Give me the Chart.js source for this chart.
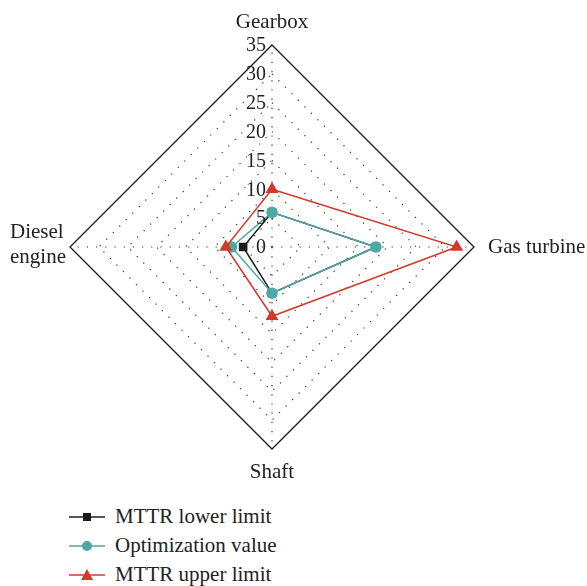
<!DOCTYPE html>
<html>
<head>
<meta charset="utf-8">
<script src="https://cdn.jsdelivr.net/npm/chart.js@4/dist/chart.umd.min.js"></script>
<style>
    html, body { margin: 0; padding: 0; background: #fff; }
    #wrap { position: relative; width: 587px; height: 586px; }
    #box { position: absolute; left: 0; top: 0; width: 587px; height: 492px; }
    #legend { position: absolute; left: 69px; top: 502px; font-family: "Liberation Serif", serif; font-size: 21px; color: #222; }
    #legend .row { display: flex; align-items: center; height: 29px; }
    #legend svg { margin-right: 10px; }
</style>
</head>
<body>
<div id="wrap">
    <div id="box"><canvas id="radarChart"></canvas></div>
    <div id="legend"></div>
</div>
<script>
const categories = ['Gearbox', 'Gas turbine', 'Shaft', ['Diesel', 'engine']];
const tickValues = [0, 5, 10, 15, 20, 25, 30, 35];
const lowerLimit = [6, 18, 8, 5];
const optimizationValue = [6, 18, 8, 7];
const upperLimit = [10, 32, 12, 8];

const seriesNames = ['MTTR lower limit', 'Optimization value', 'MTTR upper limit'];
const seriesColors = ['#1c1c1c', '#4ea9a6', '#d23a2c'];
const seriesMarkers = ['rect', 'circle', 'triangle'];

const FONT = '"Liberation Serif", serif';

// labels de escala desenhados à esquerda do eixo vertical (como no original)
const tickLabelPlugin = {
    id: 'tickLabels',
    afterDraw(chart) {
        const scale = chart.scales.r;
        const ctx = chart.ctx;
        ctx.save();
        ctx.font = '20px ' + FONT;
        ctx.fillStyle = '#222';
        ctx.textAlign = 'right';
        ctx.textBaseline = 'middle';
        tickValues.forEach(v => {
            const d = scale.getDistanceFromCenterForValue(v);
            ctx.fillText(String(v), scale.xCenter - 6, scale.yCenter - d + 1);
        });
        ctx.restore();
    }
};

// rótulos dos eixos: posicionados a partir dos pontos do próprio eixo radial
const axisLabelPlugin = {
    id: 'axisLabels',
    afterDraw(chart) {
        const scale = chart.scales.r;
        const ctx = chart.ctx;
        const r = scale.drawingArea;
        ctx.save();
        ctx.font = '21px ' + FONT;
        ctx.fillStyle = '#222';
        ctx.textBaseline = 'alphabetic';

        let p = scale.getPointPosition(0, r + 17);
        ctx.textAlign = 'center';
        ctx.fillText(categories[0], p.x, p.y);

        p = scale.getPointPosition(1, r + 14);
        ctx.textAlign = 'left';
        ctx.fillText(categories[1], p.x, p.y + 6);

        p = scale.getPointPosition(2, r + 29);
        ctx.textAlign = 'center';
        ctx.fillText(categories[2], p.x, p.y);

        p = scale.getPointPosition(3, r + 4);
        const lines = categories[3];
        const w = Math.max(...lines.map(t => ctx.measureText(t).width));
        ctx.textAlign = 'left';
        ctx.fillText(lines[0], p.x - w, p.y - 9);
        ctx.fillText(lines[1], p.x - w, p.y + 16);
        ctx.restore();
    }
};

const ctx = document.getElementById('radarChart').getContext('2d');
const allSeries = [lowerLimit, optimizationValue, upperLimit];

new Chart(ctx, {
    type: 'radar',
    data: {
        labels: categories,
        datasets: allSeries.map((data, i) => ({
            label: seriesNames[i],
            data: data,
            borderColor: seriesColors[i],
            backgroundColor: seriesColors[i],
            pointBackgroundColor: seriesColors[i],
            pointBorderColor: seriesColors[i],
            pointStyle: seriesMarkers[i],
            pointRadius: i === 2 ? 6 : 5,
            borderWidth: 1.5,
            fill: false,
            order: 3 - i
        }))
    },
    options: {
        responsive: true,
        maintainAspectRatio: false,
        animation: false,
        layout: { padding: { top: 45, bottom: 43, left: 70, right: 113 } },
        plugins: {
            legend: { display: false },
            tooltip: { enabled: false }
        },
        scales: {
            r: {
                min: 0,
                max: 35,
                ticks: { stepSize: 5, display: false },
                grid: {
                    color: (c) => c.index === 7 ? '#1a1a1a' : '#333',
                    lineWidth: (c) => c.index === 7 ? 1.3 : 1.2
                },
                border: {
                    dash: (c) => c.index === 7 ? [] : [1.2, 8]
                },
                angleLines: {
                    color: '#333',
                    lineWidth: 1.2,
                    borderDash: [1.2, 8]
                },
                pointLabels: { display: false }
            }
        }
    },
    plugins: [tickLabelPlugin, axisLabelPlugin]
});

// legenda em coluna, como na figura
const legend = document.getElementById('legend');
seriesNames.forEach((name, i) => {
    const col = seriesColors[i];
    let marker = '';
    if (seriesMarkers[i] === 'rect') marker = `<rect x="14" y="2" width="8" height="8" fill="${col}"/>`;
    if (seriesMarkers[i] === 'circle') marker = `<circle cx="18" cy="6" r="5" fill="${col}"/>`;
    if (seriesMarkers[i] === 'triangle') marker = `<polygon points="18,0 24,11 12,11" fill="${col}"/>`;
    legend.innerHTML += `<div class="row"><svg width="36" height="12"><line x1="0" y1="6" x2="36" y2="6" stroke="${col}" stroke-width="1.5"/>${marker}</svg><span>${name}</span></div>`;
});
</script>
</body>
</html>
